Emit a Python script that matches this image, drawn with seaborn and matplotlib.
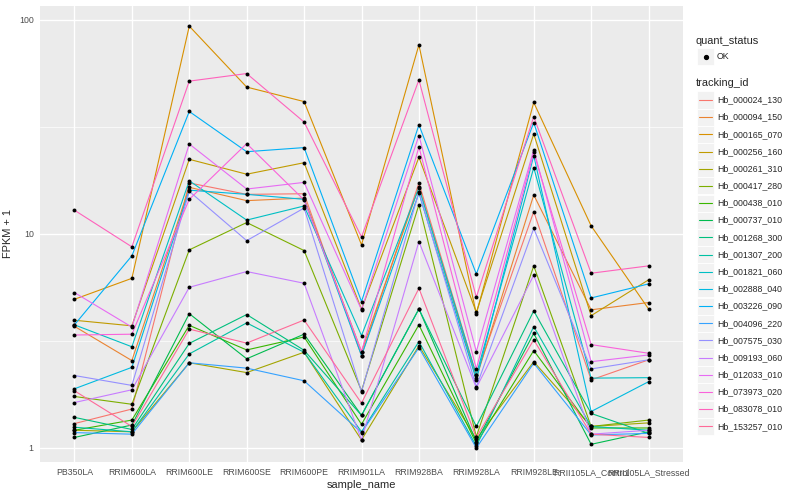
import numpy as np
import pandas as pd
import seaborn as sns
import matplotlib.pyplot as plt
from matplotlib.patches import Rectangle
from matplotlib.lines import Line2D

# samples on the x axis
samples = ['PB350LA', 'RRIM600LA', 'RRIM600LE', 'RRIM600SE', 'RRIM600PE',
           'RRIM901LA', 'RRIM928BA', 'RRIM928LA', 'RRIM928LE',
           'RRII105LA_Control', 'RRII105LA_Stressed']

tracking_ids = ['Hb_000024_130', 'Hb_000094_150', 'Hb_000165_070', 'Hb_000256_160',
                'Hb_000261_310', 'Hb_000417_280', 'Hb_000438_010', 'Hb_000737_010',
                'Hb_001268_300', 'Hb_001307_200', 'Hb_001821_060', 'Hb_002888_040',
                'Hb_003226_090', 'Hb_004096_220', 'Hb_007575_030', 'Hb_009193_060',
                'Hb_012033_010', 'Hb_073973_020', 'Hb_083078_010', 'Hb_153257_010']

# FPKM + 1 per gene, in sample order
hb_000024_130 = [1.30, 1.52, 17.3, 15.3, 15.4, 2.70, 17.3, 2.19, 12.7, 2.08, 2.58]
hb_000094_150 = [3.70, 2.56, 16.5, 14.3, 14.7, 2.82, 16.6, 2.12, 15.2, 4.42, 4.78]
hb_000165_070 = [4.95, 6.20, 93.4, 48.5, 41.5, 8.89, 76.4, 4.23, 41.1, 10.9, 4.46]
hb_000256_160 = [3.95, 3.72, 22.3, 19.0, 21.5, 4.45, 22.8, 4.30, 29.3, 4.15, 6.10]
hb_000261_310 = [1.21, 1.19, 2.50, 2.25, 2.80, 1.09, 3.00, 1.10, 2.53, 1.26, 1.31]
hb_000417_280 = [1.74, 1.60, 8.42, 11.3, 8.36, 1.85, 13.7, 1.13, 7.09, 1.26, 1.35]
hb_000438_010 = [1.21, 1.35, 3.74, 2.87, 3.30, 1.29, 3.76, 1.05, 2.85, 1.24, 1.24]
hb_000737_010 = [1.12, 1.28, 4.24, 2.61, 3.40, 1.42, 4.46, 1.07, 3.43, 1.04, 1.19]
hb_001268_300 = [1.39, 1.22, 3.08, 4.20, 2.86, 1.42, 4.46, 1.26, 4.37, 1.45, 1.17]
hb_001307_200 = [1.25, 1.19, 2.75, 3.84, 2.80, 1.19, 3.14, 1.02, 3.69, 1.26, 1.21]
hb_001821_060 = [3.76, 2.97, 17.7, 11.6, 13.5, 3.35, 16.4, 2.20, 20.4, 2.12, 2.13]
hb_002888_040 = [1.89, 2.38, 16.0, 15.3, 14.5, 2.70, 15.5, 2.08, 23.2, 1.48, 2.04]
hb_003226_090 = [3.76, 7.90, 37.3, 24.2, 25.3, 4.83, 32.3, 6.50, 33.1, 5.02, 5.84]
hb_004096_220 = [1.18, 1.16, 2.50, 2.36, 2.06, 1.18, 2.94, 1.00, 2.49, 1.15, 1.17]
hb_007575_030 = [2.18, 1.96, 15.8, 9.30, 13.2, 1.83, 15.7, 1.93, 10.6, 2.34, 2.58]
hb_009193_060 = [1.63, 1.87, 5.63, 6.67, 5.88, 1.09, 9.21, 1.91, 6.41, 1.16, 1.21]
hb_012033_010 = [5.32, 3.67, 26.3, 16.2, 17.4, 4.42, 28.8, 2.82, 24.7, 2.53, 2.72]
hb_073973_020 = [3.37, 3.40, 14.5, 26.4, 14.4, 2.82, 25.5, 2.34, 24.0, 3.04, 2.77]
hb_083078_010 = [12.9, 8.70, 51.7, 56.1, 33.3, 9.68, 52.4, 5.06, 35.3, 6.55, 7.09]
hb_153257_010 = [1.85, 1.26, 3.59, 3.09, 3.96, 1.62, 5.57, 1.12, 3.20, 1.16, 1.12]

series = [hb_000024_130, hb_000094_150, hb_000165_070, hb_000256_160, hb_000261_310,
          hb_000417_280, hb_000438_010, hb_000737_010, hb_001268_300, hb_001307_200,
          hb_001821_060, hb_002888_040, hb_003226_090, hb_004096_220, hb_007575_030,
          hb_009193_060, hb_012033_010, hb_073973_020, hb_083078_010, hb_153257_010]

rows = []
for tid, vals in zip(tracking_ids, series):
    for s, v in zip(samples, vals):
        rows.append({'tracking_id': tid, 'sample_name': s, 'fpkm': v, 'quant_status': 'OK'})
df = pd.DataFrame(rows)


def hue_pal(n, c=100, l=65):
    # ggplot2 default hue palette (hcl -> sRGB)
    hues = np.linspace(15, 375, n + 1)[:n]
    Xn, Yn, Zn = 95.047, 100.0, 108.883
    un = 4 * Xn / (Xn + 15 * Yn + 3 * Zn)
    vn = 9 * Yn / (Xn + 15 * Yn + 3 * Zn)
    out = []
    for h in hues:
        hr = np.radians(h)
        u, v = c * np.cos(hr), c * np.sin(hr)
        Y = Yn * ((l + 16) / 116) ** 3
        up = u / (13 * l) + un
        vp = v / (13 * l) + vn
        X = Y * 9 * up / (4 * vp)
        Z = Y * (12 - 3 * up - 20 * vp) / (4 * vp)
        M = np.array([[3.2404542, -1.5371385, -0.4985314],
                      [-0.9692660, 1.8760108, 0.0415560],
                      [0.0556434, -0.2040259, 1.0572252]])
        rgb = M @ (np.array([X, Y, Z]) / 100)
        rgb = np.where(rgb <= 0.0031308, 12.92 * rgb, 1.055 * np.clip(rgb, 0, None) ** (1 / 2.4) - 0.055)
        out.append(tuple(np.clip(rgb, 0, 1)))
    return out


colors = hue_pal(len(tracking_ids))

sns.set_style('darkgrid', {'axes.facecolor': '#EBEBEB', 'grid.color': 'white'})
plt.rcParams['font.family'] = ['Liberation Sans', 'DejaVu Sans']

fig = plt.figure(figsize=(8, 5), dpi=100)
ax = fig.add_axes([40 / 800, 1 - 462 / 500, 643 / 800, 456 / 500])

sns.lineplot(data=df, x='sample_name', y='fpkm', hue='tracking_id', palette=colors,
             sort=False, estimator=None, legend=False, linewidth=0.8, ax=ax)
sns.scatterplot(data=df, x='sample_name', y='fpkm', color='black', s=8, linewidth=0,
                legend=False, ax=ax, zorder=3)

ax.set_yscale('log')
ax.set_yticks([1, 10, 100])
ax.set_yticklabels(['1', '10', '100'])
ax.set_yticks([10 ** 0.5, 10 ** 1.5], minor=True)
ax.yaxis.set_minor_formatter(plt.NullFormatter())
# limits after the ticks, so set_yticks can't widen them
ax.set_xlim(-0.6, len(samples) - 0.4)
ax.set_ylim(0.86, 116)
ax.grid(which='major', color='white', linewidth=1.0)
ax.grid(which='minor', axis='y', color='white', linewidth=0.5)
ax.tick_params(which='major', length=2.5, width=0.6, color='#333333', labelsize=6.3,
               labelcolor='#4D4D4D', pad=2)
ax.tick_params(which='minor', length=0)
for sp in ax.spines.values():
    sp.set_visible(False)
ax.set_xlabel('sample_name', fontsize=7.9, labelpad=2)
ax.set_ylabel('FPKM + 1', fontsize=7.9, labelpad=4)

# legends drawn by hand in ggplot style
def fx(px):
    return px / 800


def fy(py):
    return 1 - py / 500


key_x, key_w = 697, 17
fig.text(fx(696), fy(40.7), 'quant_status', fontsize=7.9, va='center', ha='left')
fig.add_artist(Rectangle((fx(key_x), fy(56.7 + 8.5)), key_w / 800, 17 / 500,
                         transform=fig.transFigure, facecolor='#F2F2F2', edgecolor='white', linewidth=0.6))
fig.add_artist(Line2D([fx(key_x + key_w / 2)], [fy(56.7)], marker='o', markersize=2.8,
                      color='black', transform=fig.transFigure))
fig.text(fx(717), fy(56.7), 'OK', fontsize=6.3, va='center', ha='left')

fig.text(fx(696), fy(83.3), 'tracking_id', fontsize=7.9, va='center', ha='left')
for i, (tid, col) in enumerate(zip(tracking_ids, colors)):
    yc = 100 + i * 17.17
    fig.add_artist(Rectangle((fx(key_x), fy(yc + 8.5)), key_w / 800, 17 / 500,
                             transform=fig.transFigure, facecolor='#F2F2F2', edgecolor='white', linewidth=0.6))
    fig.add_artist(Line2D([fx(key_x + 2), fx(key_x + key_w - 2)], [fy(yc), fy(yc)],
                          color=col, linewidth=0.8, transform=fig.transFigure))
    fig.text(fx(717), fy(yc), tid, fontsize=6.3, va='center', ha='left')

fig.savefig('out.png', dpi=100)
